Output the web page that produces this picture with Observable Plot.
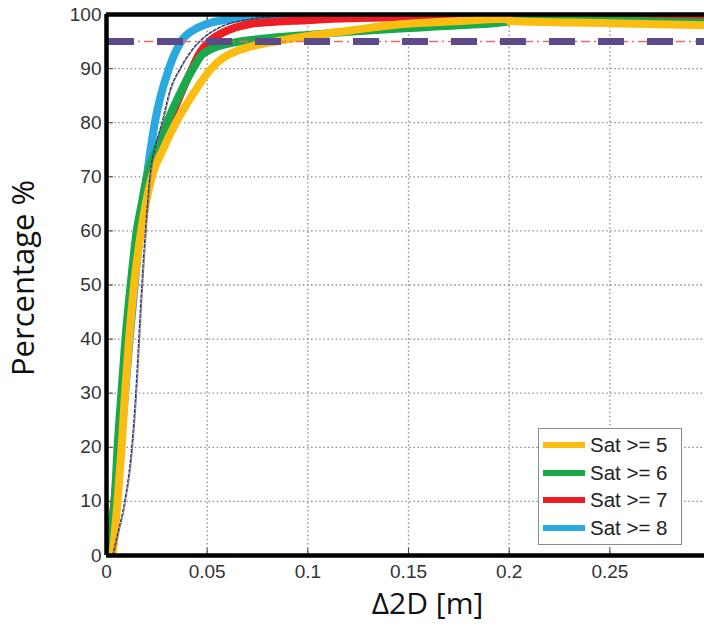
<!DOCTYPE html>
<html>
<head>
<meta charset="utf-8">
<script src="https://cdn.jsdelivr.net/npm/d3@7"></script>
<script src="https://cdn.jsdelivr.net/npm/@observablehq/plot@0.6"></script>
<style>
  html, body { margin: 0; padding: 0; background: #fff; }
  #wrap { position: relative; width: 704px; height: 635px; overflow: hidden; }
  #legend { position: absolute; left: 538px; top: 428px; width: 144px; height: 117px;
    border: 1.5px solid #8a8a8a; background: #fff; box-sizing: border-box;
    font-family: "Liberation Sans", Arial, sans-serif; font-size: 20.5px; color: #222; }
  .row { position: absolute; left: 4px; height: 22px; display: flex; align-items: center; white-space: nowrap; }
  .sw { width: 42px; height: 6px; margin-right: 5px; flex: none; }
</style>
</head>
<body>
<div id="wrap"><div id="chart"></div><div id="legend"></div></div>
<script>
// ---- data ----
const seriesNames = ["Sat >= 5", "Sat >= 6", "Sat >= 7", "Sat >= 8"];
const seriesColors = ["#fbbd12", "#17a94a", "#ec1d25", "#2aa9e0"];

const sat5X = [0.003, 0.0055, 0.0075, 0.0092, 0.0112, 0.0137, 0.0172, 0.0195, 0.0225, 0.028, 0.0345, 0.0425, 0.052, 0.058, 0.065, 0.075, 0.085, 0.096, 0.12, 0.146, 0.175, 0.2, 0.2, 0.25, 0.297];
const sat5Y = [0, 10, 20, 30, 40, 50, 60, 65, 70, 75, 80, 85, 90, 92, 93.3, 94.4, 95.1, 95.8, 97.0, 98.2, 98.8, 99.2, 98.8, 98.4, 98.0];

const sat6X = [0, 0.002, 0.004, 0.0055, 0.0074, 0.0094, 0.012, 0.015, 0.0175, 0.020, 0.025, 0.030, 0.036, 0.043, 0.047, 0.052, 0.063, 0.08, 0.096, 0.12, 0.146, 0.175, 0.2, 0.2, 0.25, 0.297];
const sat6Y = [0, 5, 10, 20, 30, 40, 50, 60, 65, 70, 75, 80, 85, 90, 92.4, 93.6, 94.8, 95.6, 96.1, 96.8, 97.4, 98.0, 98.7, 99.2, 98.9, 98.5];

const sat7X = [0, 0.003, 0.005, 0.007, 0.009, 0.011, 0.0135, 0.016, 0.021, 0.026, 0.031, 0.0365, 0.0425, 0.0465, 0.051, 0.057, 0.064, 0.072, 0.085, 0.096, 0.12, 0.15, 0.2, 0.25, 0.297];
const sat7Y = [0, 7, 14, 22, 30, 40, 50, 60, 70, 75, 80, 85, 90, 93, 95, 96.5, 97.6, 98.3, 98.7, 98.9, 99.3, 99.5, 99.6, 99.5, 99.4];

const sat8X = [0, 0.003, 0.006, 0.009, 0.012, 0.0145, 0.017, 0.020, 0.024, 0.031, 0.037, 0.045, 0.052, 0.06, 0.067, 0.075, 0.085, 0.1, 0.15, 0.2, 0.25, 0.297];
const sat8Y = [0, 6, 16, 29, 42, 52, 61, 70, 80, 90, 95, 97.5, 98.5, 99.1, 99.5, 99.7, 99.8, 99.9, 99.9, 99.9, 99.8, 99.7];

const refAX = [0.0035, 0.006, 0.0095, 0.013, 0.015, 0.0165, 0.018, 0.0198, 0.022, 0.025, 0.028, 0.032, 0.037, 0.042, 0.048, 0.056, 0.07, 0.09, 0.12];
const refAY = [0, 4, 10, 20, 30, 40, 50, 60, 70, 76, 80, 86, 90, 93, 95.5, 97.5, 99, 99.7, 100];
const refBX = [0.003, 0.0055, 0.009, 0.0125, 0.0145, 0.016, 0.0175, 0.0193, 0.0215, 0.0245, 0.0275, 0.0315, 0.0365, 0.0415, 0.0475, 0.0555, 0.069, 0.089, 0.12];
const refBY = [0, 4, 10, 20, 30, 40, 50, 60, 70, 76, 80, 86, 90, 93, 95.5, 97.5, 99, 99.7, 100];

const threshold = [95];
const xTicks = [0, 0.05, 0.1, 0.15, 0.2, 0.25];
const xTickLabels = ["0", "0.05", "0.1", "0.15", "0.2", "0.25"];
const yTicks = [0, 10, 20, 30, 40, 50, 60, 70, 80, 90, 100];
const xLabel = "Δ2D [m]";
const yLabel = "Percentage %";

// ---- build rows ----
const seriesXs = [sat5X, sat6X, sat7X, sat8X];
const seriesYs = [sat5Y, sat6Y, sat7Y, sat8Y];
const toRows = (xs, ys, name) => xs.map((x, i) => ({x, y: ys[i], name}));
const drawOrder = [3, 2, 1, 0]; // blue, red, green, yellow (yellow on top)

const marks = [
  Plot.gridX(xTicks, {stroke: "#8c8c8c", strokeOpacity: 1, strokeWidth: 1.3, strokeDasharray: "1.5,2.6"}),
  Plot.gridY(yTicks, {stroke: "#8c8c8c", strokeOpacity: 1, strokeWidth: 1.3, strokeDasharray: "1.5,2.6"}),
  Plot.axisX(xTicks, {anchor: "bottom", tickSize: 0, tickPadding: 9, tickFormat: (d, i) => xTickLabels[i],
    fontSize: 19, fill: "#333", fontFamily: "Liberation Sans, Arial, sans-serif", label: null}),
  Plot.axisX(xTicks, {anchor: "bottom", tickSize: -7, tickFormat: () => "", stroke: "#444", label: null}),
  Plot.axisX(xTicks, {anchor: "top", tickSize: -7, tickFormat: () => "", stroke: "#444", label: null}),
  Plot.axisY(yTicks, {anchor: "left", tickSize: 0, tickPadding: 5, fontSize: 19, fill: "#333",
    fontFamily: "Liberation Sans, Arial, sans-serif", label: null}),
  Plot.axisY(yTicks, {anchor: "left", tickSize: -7, tickFormat: () => "", stroke: "#444", label: null}),
];
for (const k of drawOrder) {
  marks.push(Plot.line(toRows(seriesXs[k], seriesYs[k], seriesNames[k]),
    {x: "x", y: "y", stroke: seriesColors[k], strokeWidth: 8, curve: "monotone-x", strokeLinecap: "butt", clip: true}));
}
marks.push(
  Plot.line(toRows(refAX, refAY, "a"), {x: "x", y: "y", stroke: "#7a7a7a", strokeWidth: 1, curve: "monotone-x", clip: true}),
  Plot.line(toRows(refBX, refBY, "b"), {x: "x", y: "y", stroke: "#2d2d72", strokeWidth: 1.2, strokeDasharray: "3,2", curve: "monotone-x", clip: true}),
  Plot.ruleY(threshold, {stroke: "#e86a6a", strokeWidth: 1.5, strokeDasharray: "9,4,2,4"}),
  Plot.ruleY(threshold, {stroke: "#5d4a8a", strokeWidth: 7, strokeDasharray: "26,23", strokeDashoffset: -2}),
  Plot.ruleX([0], {stroke: "#000", strokeWidth: 4.5}),
  Plot.ruleY([0, 100], {stroke: "#000", strokeWidth: 4.5}),
  Plot.text([yLabel], {frameAnchor: "left", textAnchor: "middle", rotate: -90, dx: -82, dy: -7, fontSize: 31,
    fontFamily: "Open Sans, sans-serif", fill: "#111", text: d => d}),
  Plot.text([xLabel], {frameAnchor: "bottom", textAnchor: "middle", dx: 22, dy: 58, fontSize: 30,
    fontFamily: "Open Sans, sans-serif", fill: "#111", text: d => d})
);

const chart = Plot.plot({
  width: 704,
  height: 635,
  marginLeft: 106,
  marginRight: 0,
  marginTop: 14,
  marginBottom: 80,
  x: {domain: [0, 0.297]},
  y: {domain: [0, 100]},
  style: {background: "#fff", overflow: "visible"},
  marks
});
document.getElementById("chart").appendChild(chart);

// ---- legend ----
const legend = document.getElementById("legend");
seriesNames.forEach((name, i) => {
  const row = document.createElement("div");
  row.className = "row";
  row.style.top = (5 + i * 27.5) + "px";
  row.innerHTML = `<div class="sw" style="background:${seriesColors[i]}"></div><span>${name}</span>`;
  legend.appendChild(row);
});
</script>
</body>
</html>
